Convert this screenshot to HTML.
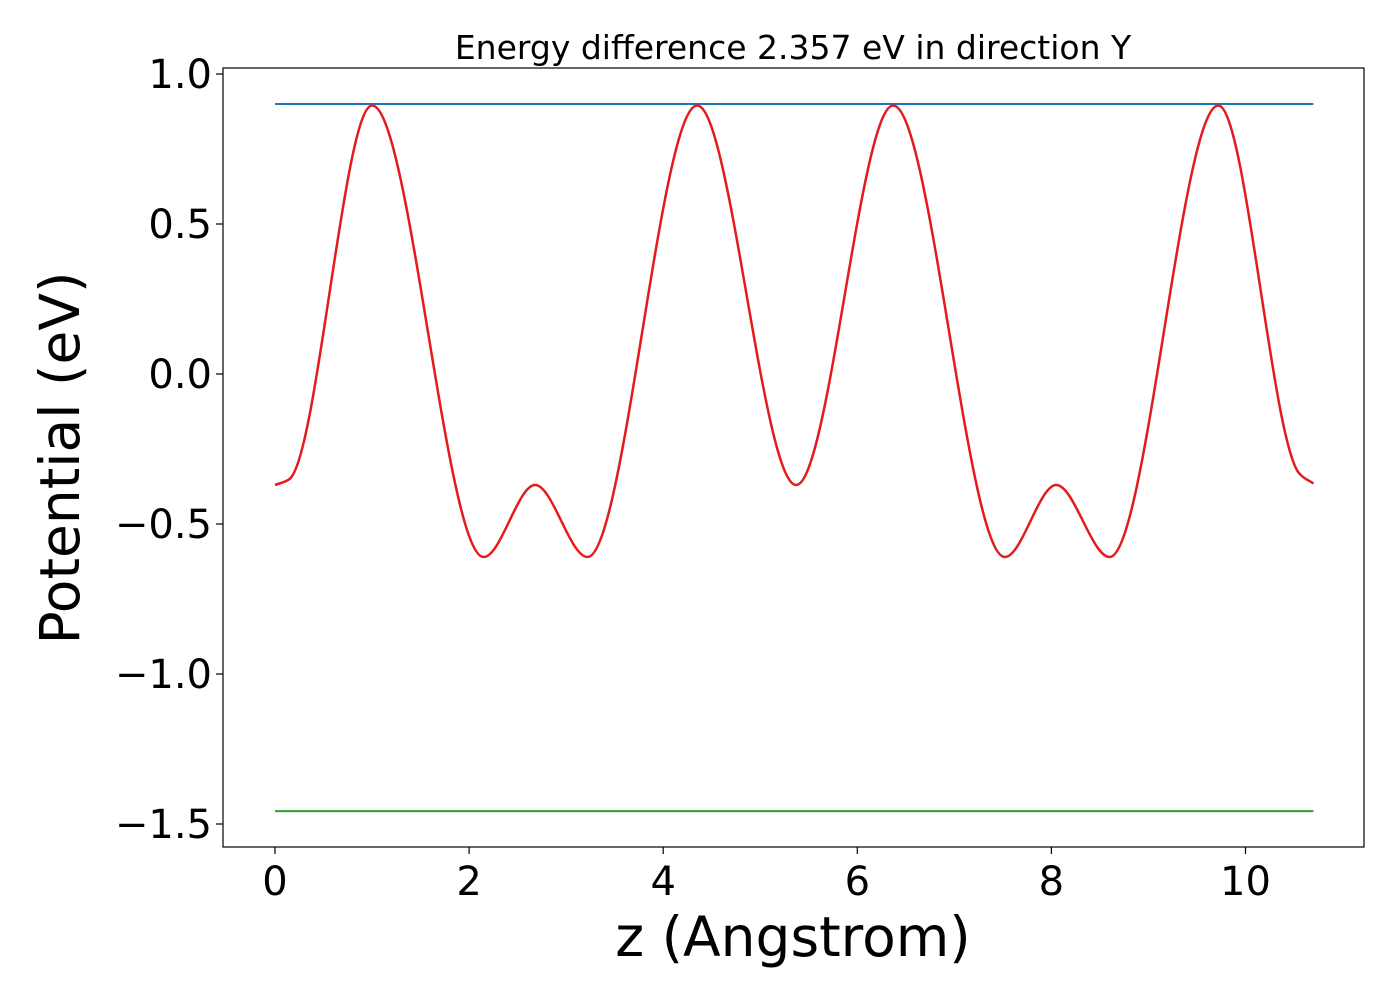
<!DOCTYPE html>
<html><head><meta charset="utf-8">
<style>
html,body{margin:0;padding:0;background:#fff;}
svg text{font-family:"DejaVu Sans","Liberation Sans",sans-serif;fill:#000;}
</style></head>
<body>
<svg id="chart" width="1400" height="1000" viewBox="0 0 1400 1000" xmlns="http://www.w3.org/2000/svg">
<rect width="1400" height="1000" fill="#fff"/>
<g id="plot"></g>
</svg>
<script>
const xTicks = [0, 2, 4, 6, 8, 10];
const yTicks = [1.0, 0.5, 0.0, -0.5, -1.0, -1.5];
const yTickLabels = ["1.0", "0.5", "0.0", "\u22120.5", "\u22121.0", "\u22121.5"];
const zValues = [0, 0.15, 1.0, 2.15, 2.68, 3.22, 4.35, 5.37, 6.37, 7.52, 8.05, 8.6, 9.72, 10.55, 10.7];
const potValues = [-0.37, -0.35, 0.895, -0.61, -0.37, -0.61, 0.895, -0.37, 0.895, -0.61, -0.37, -0.61, 0.895, -0.33, -0.365];
const topLevel = [0.9];
const bottomLevel = [-1.457];
const zRange = [0, 10.7];

const svgNS = "http://www.w3.org/2000/svg";
const g = document.getElementById('plot');
const L = 223, R = 1364, T = 68, B = 847;
function xs(v){ return 275 + v * 97.05; }
function ys(v){ return 374 - v * 300; }
function el(tag, attrs){ const e = document.createElementNS(svgNS, tag); for (const k in attrs) e.setAttribute(k, attrs[k]); g.appendChild(e); return e; }

// monotone cubic
function monotone(xsArr, ysArr){
  const n = xsArr.length, d = [], m = new Array(n);
  for (let i=0;i<n-1;i++) d.push((ysArr[i+1]-ysArr[i])/(xsArr[i+1]-xsArr[i]));
  m[0]=d[0]; m[n-1]=d[n-2];
  for (let i=1;i<n-1;i++){ m[i] = (d[i-1]*d[i] <= 0) ? 0 : 2/(1/d[i-1]+1/d[i]); }
  for (let i=0;i<n-1;i++){ if (d[i]===0){m[i]=0;m[i+1]=0;} }
  let p = "M" + xs(xsArr[0]) + "," + ys(ysArr[0]);
  for (let i=0;i<n-1;i++){
    const h = xsArr[i+1]-xsArr[i];
    const c1x = xsArr[i]+h/3, c1y = ysArr[i]+m[i]*h/3;
    const c2x = xsArr[i+1]-h/3, c2y = ysArr[i+1]-m[i+1]*h/3;
    p += " C" + xs(c1x) + "," + ys(c1y) + " " + xs(c2x) + "," + ys(c2y) + " " + xs(xsArr[i+1]) + "," + ys(ysArr[i+1]);
  }
  return p;
}

// lines
let e;
e = el('line', {x1: xs(zRange[0]), x2: xs(zRange[1]), y1: ys(topLevel[0]), y2: ys(topLevel[0]), stroke: '#1f77b4', 'stroke-width': 2});


e = el('line', {x1: xs(zRange[0]), x2: xs(zRange[1]), y1: ys(bottomLevel[0]), y2: ys(bottomLevel[0]), stroke: '#2ca02c', 'stroke-width': 2});


e = el('path', {d: monotone(zValues, potValues), fill: 'none', stroke: '#e41a1c', 'stroke-width': 2.5});



// frame
e = el('rect', {x: L, y: T, width: R-L, height: B-T, fill: 'none', stroke: '#000', 'stroke-width': 1.2});



xTicks.forEach(v => {
  const t = el('line', {x1: xs(v), x2: xs(v), y1: B, y2: B+7, stroke: '#000', 'stroke-width': 1.2});
  
  
  const tx = el('text', {x: xs(v), y: 895, 'font-size': 40, 'text-anchor': 'middle'});
  tx.textContent = String(v);
  
  
});
yTicks.forEach((v, i) => {
  const t = el('line', {x1: L-7, x2: L, y1: ys(v), y2: ys(v), stroke: '#000', 'stroke-width': 1.2});
  
  
  const tx = el('text', {x: 212, y: ys(v)+14, 'font-size': 40, 'text-anchor': 'end'});
  tx.textContent = yTickLabels[i];
  
  
});

e = el('text', {x: 793, y: 956, 'font-size': 55, 'text-anchor': 'middle'});
e.textContent = 'z (Angstrom)';


e = el('text', {x: 0, y: 0, 'font-size': 55, 'text-anchor': 'middle', transform: 'translate(79,458) rotate(-90)'});
e.textContent = 'Potential (eV)';


e = el('text', {x: 793, y: 59, 'font-size': 33, 'text-anchor': 'middle'});
e.textContent = 'Energy difference 2.357 eV in direction Y';


</script>
</body></html>
